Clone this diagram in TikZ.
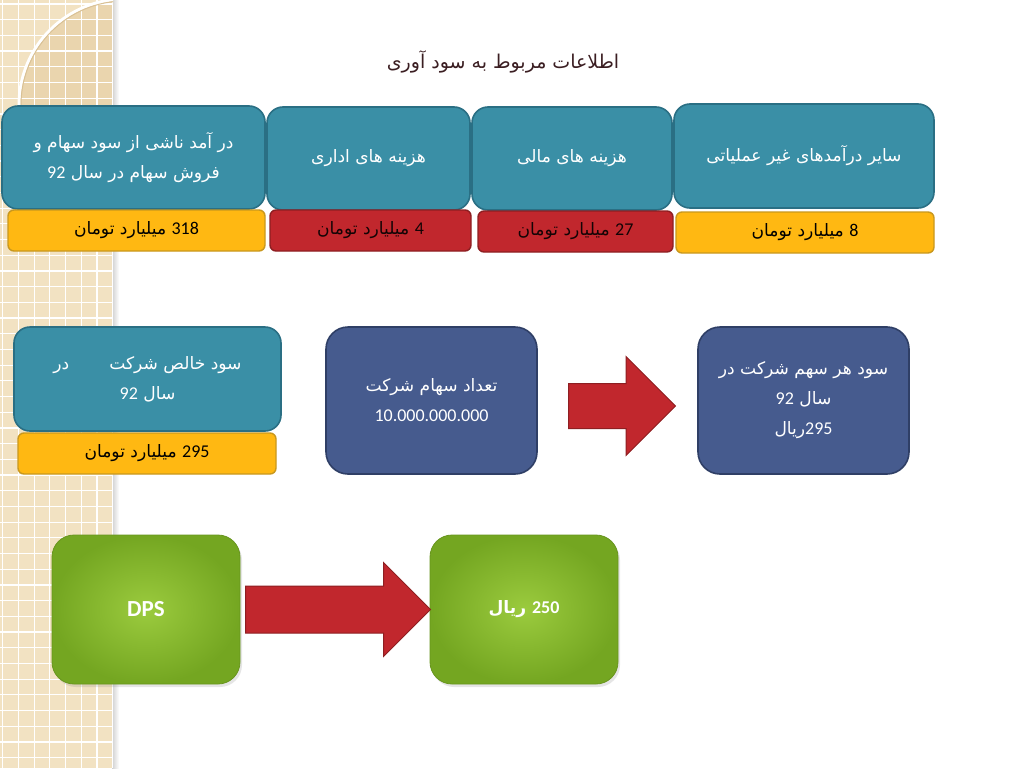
\documentclass[tikz,border=0pt]{standalone}
\usepackage{fontspec}
\setmainfont{Carlito}
\newfontfamily\fa[Script=Arabic,Scale=0.95]{DejaVu Sans}
\TeXXeTstate=1
\usepackage{tikz}
\usetikzlibrary{shapes.arrows,shadows}
\definecolor{fondo}{HTML}{F2E2C2}
\definecolor{fondo2}{HTML}{EAD5AE}
\definecolor{trazo}{HTML}{D9C195}
\definecolor{tinta}{HTML}{3B1E22}
\definecolor{teal}{HTML}{3A8FA6}
\definecolor{tealborde}{HTML}{2A6F84}
\definecolor{naranja}{HTML}{FFB812}
\definecolor{naranjaborde}{HTML}{C9981E}
\definecolor{rojo}{HTML}{C1272D}
\definecolor{rojoborde}{HTML}{8E1F22}
\definecolor{marino}{HTML}{465B8E}
\definecolor{marinoborde}{HTML}{2F3F66}
\definecolor{verde}{HTML}{9BCB3E}
\definecolor{verdeosc}{HTML}{74A621}
\newcommand{\rtl}[1]{{\fa\beginR #1\endR}}
\newcommand{\cifra}[1]{\beginL{\rmfamily #1}\endL{}}
\tikzset{
  titulo/.style={text=tinta,font=\fontsize{20}{24}\selectfont,inner sep=0pt},
  caja/.style={draw=tealborde,fill=teal,line width=1.6pt,rounded corners=16pt,text=white,align=center,font=\fontsize{18}{30}\selectfont},
  barra/.style={draw=naranjaborde,fill=naranja,line width=1.4pt,rounded corners=6pt,minimum height=41pt,text=black,font=\fontsize{18}{22}\selectfont},
  barraroja/.style={barra,draw=rojoborde,fill=rojo,text=black!90!rojo},
  cajaazul/.style={draw=marinoborde,fill=marino,line width=1.6pt,rounded corners=22pt,minimum width=211pt,minimum height=147pt,text=white,align=center,font=\fontsize{18}{30}\selectfont},
  cajaverde/.style={draw=verdeosc!90!black,shading=radial,inner color=verde,outer color=verdeosc,line width=0.8pt,rounded corners=22pt,minimum width=188pt,minimum height=149pt,text=white,align=center,drop shadow={opacity=0.2,shadow xshift=2pt,shadow yshift=-3pt}},
  flecha/.style={single arrow,draw=rojoborde,fill=rojo,line width=1pt,single arrow head indent=0pt,inner xsep=0pt},
}
\begin{document}
\begin{tikzpicture}[x=1pt,y=-1pt]
\useasboundingbox (0,0) rectangle (1024,768);
\fill[white] (0,0) rectangle (1024,768);
\shade[left color=black!18,right color=white] (112,0) rectangle (119,768);
\fill[fondo] (0,0) rectangle (113,768);
\begin{scope}
\clip (0,0) rectangle (113,768);
\fill[fondo2] (125,105) circle (105);
\foreach \i in {0,...,7} \draw[white,line width=1.2pt] (2.7+15.7*\i,0) -- (2.7+15.7*\i,768);
\foreach \j in {0,...,49} \draw[white,line width=1.2pt] (0,4+15.7*\j) -- (113,4+15.7*\j);
\draw[white,line width=3pt] (125,105) circle (106);
\draw[trazo,line width=1pt] (125,105) circle (104);
\end{scope}
\node[titulo] (tit) at (503,62) {\rtl{اطلاعات مربوط به سود آوری}};
\node[caja,minimum width=263pt,minimum height=103pt] (ingreso) at (133.5,157.5) {\rtl{در آمد ناشی از سود سهام و}\\\rtl{فروش سهام در سال \cifra{92}}};
\node[caja,minimum width=203pt,minimum height=103pt] (admin) at (368.5,158.5) {\rtl{هزینه های اداری}};
\node[caja,minimum width=200pt,minimum height=103pt] (financ) at (572,158.5) {\rtl{هزینه های مالی}};
\node[caja,minimum width=260pt,minimum height=104pt] (otros) at (804,156) {\rtl{سایر درآمدهای غیر عملیاتی}};
\node[barra,minimum width=257pt] (v1) at (136.5,230.5) {\rtl{\cifra{318} میلیارد تومان}};
\node[barraroja,minimum width=201pt] (v2) at (370.5,230.5) {\rtl{\cifra{4} میلیارد تومان}};
\node[barraroja,minimum width=195pt] (v3) at (575.5,231.5) {\rtl{\cifra{27} میلیارد تومان}};
\node[barra,minimum width=258pt] (v4) at (805,232.5) {\rtl{\cifra{8} میلیارد تومان}};
\node[caja,minimum width=267pt,minimum height=104pt] (neto) at (147.5,379) {\rtl{سود خالص  شرکت\hspace{40pt}در}\\\rtl{سال \cifra{92}}};
\node[barra,minimum width=258pt] (vneto) at (147,453.5) {\rtl{\cifra{295} میلیارد تومان}};
\node[cajaazul] (acciones) at (431.5,400.5) {\rtl{تعداد سهام شرکت}\\\cifra{10.000.000.000}};
\node[cajaazul] (eps) at (803.5,400.5) {\rtl{سود هر سهم شرکت در}\\\rtl{سال \cifra{92}}\\\rtl{\cifra{295}ریال}};
\node[flecha,minimum height=107pt,inner ysep=22pt,single arrow head extend=27pt,anchor=tail] (f1) at (568,406) {};
\node[cajaverde,font=\fontsize{23}{28}\selectfont\bfseries] (dps) at (146,609.5) {DPS};
\node[cajaverde,font=\fontsize{18}{22}\selectfont\bfseries] (pago) at (524,609.5) {\rtl{\cifra{250} ریال}};
\node[flecha,minimum height=185pt,inner ysep=23pt,single arrow head extend=23.5pt,anchor=tail] (f2) at (245,609.5) {};
\end{tikzpicture}
\end{document}
